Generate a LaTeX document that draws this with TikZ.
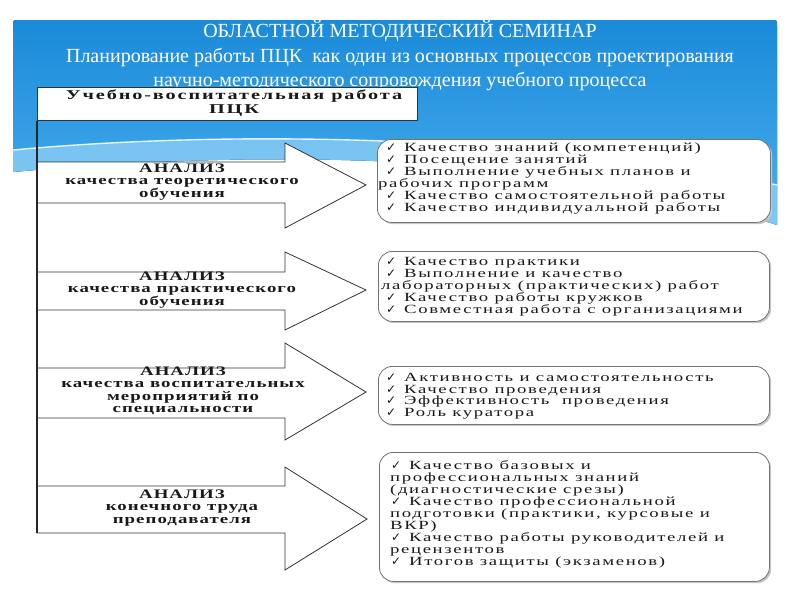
\documentclass[tikz,border=0pt]{standalone}
\usepackage{fontspec}
\setmainfont{Liberation Serif}
\newfontfamily\symfont{DejaVu Sans}
\newfontfamily\boxfont[FakeStretch=1.5,LetterSpace=13]{Liberation Serif}
\newfontfamily\arrfont[FakeStretch=1.45,LetterSpace=8]{Liberation Serif}
\newfontfamily\hdrfont[FakeStretch=1.5,LetterSpace=14]{Liberation Serif}
\definecolor{skyA}{HTML}{1A8AD9}
\definecolor{skyB}{HTML}{4AAFEE}
\definecolor{skyC}{HTML}{8FD0F6}
\newcommand\ck{\makebox[18pt][l]{\symfont\fontsize{12}{10}\selectfont ✓}}
\tikzset{
  arrowbox/.style={draw=black!80, fill=white, line width=0.8pt},
  arrtxt/.style={font=\arrfont\bfseries\fontsize{13}{12.5}\selectfont, align=center, inner sep=0pt, text=black!90},
  infobox/.style={draw=black!55, fill=white, line width=0.8pt, rounded corners=14pt, inner sep=0pt, anchor=north west},
  shadowbox/.style={fill=black!22, rounded corners=14pt, inner sep=0pt, anchor=north west},
  infotxt/.style={font=\boxfont\fontsize{12.5}{12}\selectfont, align=left, inner sep=0pt, anchor=north west, text=black!90},
  titletxt/.style={font=\fontsize{20}{20}\selectfont, text=white, inner sep=0pt, anchor=base},
}
\begin{document}
\begin{tikzpicture}[x=1pt,y=-1pt]
\useasboundingbox (0,0) rectangle (800,600);
% background panel
\fill[top color=skyA, bottom color=skyB] (13,172) -- (13,26) .. controls (13,20) .. (19,20) -- (771,20) .. controls (777,20) .. (777,26) -- (777,225) .. controls (550,150) and (250,150) .. (13,172) -- cycle;
\fill[skyC, opacity=0.75] (13,150) .. controls (250,128) and (550,138) .. (777,185) -- (777,225) .. controls (550,150) and (250,150) .. (13,172) -- cycle;
\draw[white, line width=1.4pt, opacity=0.85] (13,150) .. controls (250,128) and (550,138) .. (777,185);
% title
\node[titletxt] (h1) at (400,37) {ОБЛАСТНОЙ МЕТОДИЧЕСКИЙ СЕМИНАР};
\node[titletxt] (h2) at (400,62) {Планирование работы ПЦК\ \ как один из основных процессов проектирования};
\node[titletxt] (h3) at (400,86) {научно-методического сопровождения учебного процесса};
% top box
\node[draw=black!80, fill=white, line width=0.8pt, anchor=north west, minimum width=380pt, minimum height=33pt, inner sep=0pt] (top) at (37,87) {};
\node[font=\hdrfont\bfseries\fontsize{13.5}{14.5}\selectfont, align=center, inner sep=0pt, text=black!90] (toptxt) at (234,103) {Учебно-воспитательная работа\\ПЦК};
% arrows
\draw[arrowbox] (37,162) -- (285,162) -- (285,143) -- (366,185) -- (285,228) -- (285,203) -- (37,203) -- cycle;
\draw[arrowbox] (37,272) -- (285,272) -- (285,252) -- (366,290) -- (285,330) -- (285,310) -- (37,310) -- cycle;
\draw[arrowbox] (37,368) -- (285,368) -- (285,343) -- (366,392) -- (285,440) -- (285,418) -- (37,418) -- cycle;
\draw[arrowbox] (37,486) -- (285,486) -- (285,467) -- (367,519) -- (285,570) -- (285,533) -- (37,533) -- cycle;
\coordinate (vend) at (37,533);
\draw[line width=1.1pt, black!85] (top.south west) -- (vend);
\node[arrtxt] (a1) at (182,182) {АНАЛИЗ\\качества теоретического\\обучения};
\node[arrtxt] (a2) at (182,290) {АНАЛИЗ\\качества практического\\обучения};
\node[arrtxt] (a3) at (183,391) {АНАЛИЗ\\качества воспитательных\\мероприятий по\\специальности};
\node[arrtxt] (a4) at (182,508) {АНАЛИЗ\\конечного труда\\преподавателя};
% right boxes
\node[shadowbox, minimum width=393pt, minimum height=83pt] (s1) at (379,141) {};
\node[infobox, minimum width=393pt, minimum height=83pt] (b1) at (377,139) {};
\node[shadowbox, minimum width=391pt, minimum height=70pt] (s2) at (380,253) {};
\node[infobox, minimum width=391pt, minimum height=70pt] (b2) at (378,251) {};
\node[shadowbox, minimum width=391pt, minimum height=58pt] (s3) at (380,368) {};
\node[infobox, minimum width=391pt, minimum height=58pt] (b3) at (378,366) {};
\node[shadowbox, minimum width=390pt, minimum height=129pt] (s4) at (381,454) {};
\node[infobox, minimum width=390pt, minimum height=129pt] (b4) at (379,452) {};
\node[infotxt] (t1) at (386,143) {\ck Качество знаний (компетенций)\\
\ck Посещение занятий\\
\ck Выполнение учебных планов и\\
\hspace*{-8pt}рабочих программ\\
\ck Качество самостоятельной работы\\
\ck Качество индивидуальной работы};
\node[infotxt] (t2) at (386,257.5) {\ck Качество практики\\
\ck Выполнение и качество\\
\hspace*{-5pt}лабораторных (практических) работ\\
\ck Качество работы кружков\\
\ck Совместная работа с организациями};
\node[infotxt, font=\boxfont\fontsize{12.5}{11.5}\selectfont] (t3) at (386,373.5) {\ck Активность и самостоятельность\\
\ck Качество проведения\\
\ck Эффективность\ \ проведения\\
\ck Роль куратора};
\node[infotxt] (t4) at (391,460.5) {\ck Качество базовых и\\
\hspace*{-1pt}профессиональных знаний\\
\hspace*{-1pt}(диагностические срезы)\\
\ck Качество профессиональной\\
\hspace*{-1pt}подготовки (практики, курсовые и\\
\hspace*{-1pt}ВКР)\\
\ck Качество работы руководителей и\\
\hspace*{-1pt}рецензентов\\
\ck Итогов защиты (экзаменов)};
\end{tikzpicture}
\end{document}
